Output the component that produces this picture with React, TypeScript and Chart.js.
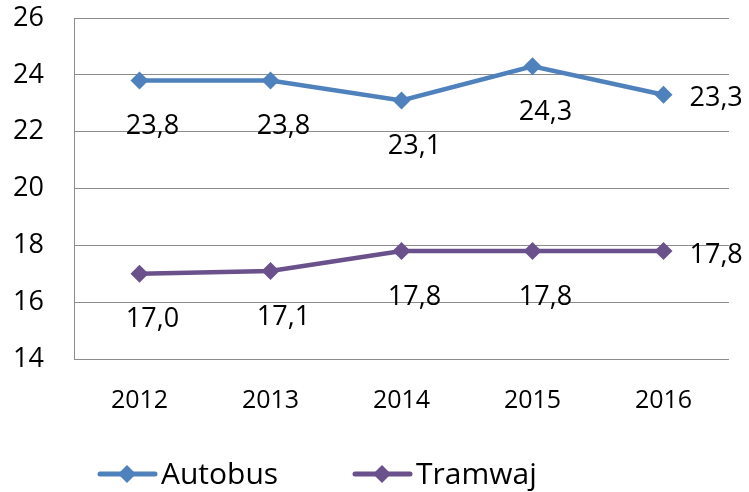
import React, { useEffect, useRef } from "react";
import { Chart, registerables } from "chart.js";

Chart.register(...registerables);

const categories = ["2012", "2013", "2014", "2015", "2016"];
const autobus = [23.8, 23.8, 23.1, 24.3, 23.3];
const tramwaj = [17.0, 17.1, 17.8, 17.8, 17.8];
const seriesNames = ["Autobus", "Tramwaj"];
const seriesColors = ["#4F81BD", "#6B518C"];
const yMin = 14;
const yMax = 26;
const yStep = 2;

const NUM_FONT = "'Open Sans', 'DejaVu Sans', sans-serif";
const LEGEND_FONT = "'Open Sans', 'DejaVu Sans', sans-serif";

const fmt = (v: number) => v.toFixed(1).replace(".", ",");

const labelPlugin = {
  id: "valueLabels",
  afterDatasetsDraw(chart: any) {
    const ctx = chart.ctx;
    ctx.save();
    ctx.fillStyle = "#000";
    ctx.font = `27px ${NUM_FONT}`;
    ctx.textBaseline = "middle";
    chart.data.datasets.forEach((ds: any, di: number) => {
      const meta = chart.getDatasetMeta(di);
      meta.data.forEach((pt: any, i: number) => {
        const txt = fmt(ds.data[i]);
        if (i === ds.data.length - 1) {
          ctx.textAlign = "left";
          ctx.fillText(txt, pt.x + 26, pt.y + 4);
        } else {
          ctx.textAlign = "center";
          ctx.fillText(txt, pt.x + 13, pt.y + 46);
        }
      });
    });
    ctx.restore();
  },
};

const legendPlugin = {
  id: "customLegend",
  afterDraw(chart: any) {
    const ctx = chart.ctx;
    const area = chart.chartArea;
    const y = 474;
    let x = area.left + 26;
    ctx.save();
    seriesNames.forEach((name, i) => {
      const color = seriesColors[i];
      ctx.strokeStyle = color;
      ctx.lineWidth = 5;
      ctx.lineCap = "round";
      ctx.beginPath();
      ctx.moveTo(x, y);
      ctx.lineTo(x + 55, y);
      ctx.stroke();
      const cx = x + 27;
      const r = 9;
      ctx.fillStyle = color;
      ctx.beginPath();
      ctx.moveTo(cx, y - r);
      ctx.lineTo(cx + r, y);
      ctx.lineTo(cx, y + r);
      ctx.lineTo(cx - r, y);
      ctx.closePath();
      ctx.fill();
      ctx.fillStyle = "#000";
      ctx.font = `30px ${LEGEND_FONT}`;
      ctx.textAlign = "left";
      ctx.textBaseline = "middle";
      ctx.fillText(name, x + 61, y + 1);
      x += 255;
    });
    ctx.restore();
  },
};

export default function App() {
  const ref = useRef<HTMLCanvasElement>(null);
  useEffect(() => {
    if (!ref.current) return;
    const chart = new Chart(ref.current, {
      type: "line",
      data: {
        labels: categories,
        datasets: [
          {
            label: seriesNames[0],
            data: autobus,
            borderColor: seriesColors[0],
            backgroundColor: seriesColors[0],
            borderWidth: 4.5,
            pointStyle: "rectRot",
            pointRadius: 9,
            pointBorderWidth: 0,
            tension: 0,
          },
          {
            label: seriesNames[1],
            data: tramwaj,
            borderColor: seriesColors[1],
            backgroundColor: seriesColors[1],
            borderWidth: 4.5,
            pointStyle: "rectRot",
            pointRadius: 9,
            pointBorderWidth: 0,
            tension: 0,
          },
        ],
      },
      options: {
        responsive: false,
        animation: false,
        layout: { padding: { top: 18, right: 20, bottom: 0, left: 0 } },
        plugins: {
          legend: { display: false },
          tooltip: { enabled: false },
        },
        scales: {
          x: {
            offset: true,
            grid: { display: false, drawTicks: false },
            border: { display: false },
            ticks: {
              color: "#000",
              font: { family: NUM_FONT, size: 25 },
              padding: 27,
              maxRotation: 0,
            },
            afterFit: (scale: any) => {
              scale.height = 133;
              scale.paddingLeft = 0;
              scale.paddingRight = 0;
            },
          },
          y: {
            min: yMin,
            max: yMax,
            ticks: {
              stepSize: yStep,
              color: "#000",
              font: { family: NUM_FONT, size: 27 },
              padding: 30,
            },
            grid: { color: "#8c8c8c", lineWidth: 1, drawTicks: false },
            border: { display: true, color: "#8c8c8c", width: 1 },
            afterFit: (scale: any) => {
              scale.width = 74;
              scale.paddingTop = 0;
              scale.paddingBottom = 0;
            },
          },
        },
      },
      plugins: [labelPlugin, legendPlugin],
    });
    return () => chart.destroy();
  }, []);
  return (
    <div style={{ position: "absolute", left: 0, top: 0, width: 749, height: 492, background: "#fff" }}>
      <canvas ref={ref} width={749} height={492} />
    </div>
  );
}
